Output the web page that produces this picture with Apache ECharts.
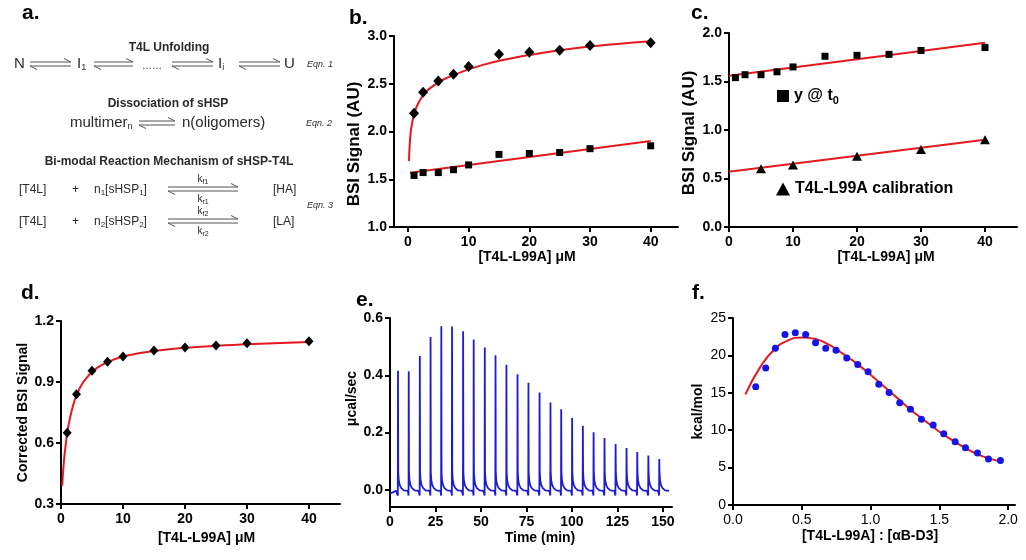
<!DOCTYPE html>
<html>
<head>
<meta charset="utf-8">
<script src="https://cdn.jsdelivr.net/npm/echarts@6/dist/echarts.min.js"></script>
<style>html,body{margin:0;padding:0;background:#fff;}#main{width:1026px;height:560px;}</style>
</head>
<body>
<div id="main"></div>
<script>
// ---------- data ----------
// panel b / c : BSI signal vs [T4L-L99A] (µM)
const concX = [1, 2.5, 5, 7.5, 10, 15, 20, 25, 30, 40];
const bDiamondY = [2.19, 2.41, 2.53, 2.60, 2.68, 2.81, 2.83, 2.85, 2.90, 2.93];
const squareY = [1.54, 1.57, 1.57, 1.60, 1.65, 1.76, 1.77, 1.78, 1.82, 1.85];
const bFitDiamondX = [0.17, 0.22, 0.3, 0.4, 0.5, 0.75, 1, 1.5, 2, 2.5, 3, 4, 5, 6, 7.5, 10, 12.5, 15, 17.5, 20, 25, 30, 35, 40];
const bFitDiamondY = [1.69, 1.78, 1.88, 1.96, 2.02, 2.11, 2.18, 2.27, 2.33, 2.38, 2.42, 2.47, 2.515, 2.55, 2.59, 2.65, 2.70, 2.74, 2.772, 2.80, 2.85, 2.89, 2.92, 2.945];
const bFitSquareX = [0.33, 40];
const bFitSquareY = [1.567, 1.90];
const calibX = [5, 10, 20, 30, 40];
const calibY = [0.60, 0.64, 0.73, 0.80, 0.90];
const cFitSquareX = [0, 40];
const cFitSquareY = [1.56, 1.90];
const cFitCalibX = [0, 40];
const cFitCalibY = [0.57, 0.90];
// panel d : corrected BSI signal
const dY = [0.65, 0.84, 0.955, 1.0, 1.025, 1.055, 1.07, 1.08, 1.09, 1.10];
const dFitX = [0.2, 0.3, 0.5, 0.75, 1, 1.5, 2, 2.5, 3, 3.5, 4, 5, 6, 7.5, 10, 12.5, 15, 20, 25, 30, 40];
const dFitY = [0.39, 0.44, 0.52, 0.59, 0.65, 0.73, 0.79, 0.835, 0.868, 0.895, 0.915, 0.95, 0.973, 0.998, 1.025, 1.041, 1.053, 1.068, 1.078, 1.086, 1.097];
// panel e : ITC thermogram (injection times in min, peak heights in µcal/sec)
const injTime = [4.4, 10.3, 16.4, 22.3, 28.2, 34.1, 40.2, 46.0, 52.1, 58.0, 64.0, 70.1, 76.1,
                 82.2, 88.2, 94.1, 100.1, 106.0, 111.9, 117.9, 124.0, 130.0, 135.9, 142.0, 148.0];
const injPeak = [0.416, 0.414, 0.467, 0.534, 0.571, 0.570, 0.554, 0.525, 0.497, 0.470, 0.437, 0.404, 0.374,
                 0.340, 0.305, 0.281, 0.251, 0.224, 0.201, 0.181, 0.160, 0.146, 0.132, 0.120, 0.108];
const preSpike = [[-0.3, -0.004], [-0.1, -0.02]];               // [min offset, µcal/sec]
const tailShape = [[0.12, 0.062], [0.4, 0.034], [0.9, 0.017], [1.8, 0.006], [3.2, -0.002], [5.4, -0.004]];
const traceStart = [[0, -0.013], [1.5, -0.009], [3.2, -0.003]];
const traceEnd = [[153.5, -0.002]];
// panel f : integrated heats
const fX = [0.165, 0.238, 0.308, 0.378, 0.453, 0.528, 0.60, 0.674, 0.749, 0.827, 0.907, 0.982,
            1.06, 1.135, 1.212, 1.29, 1.37, 1.455, 1.532, 1.615, 1.69, 1.777, 1.857, 1.944];
const fY = [15.8, 18.3, 20.95, 22.8, 23.04, 22.8, 21.7, 20.95, 20.7, 19.66, 18.77, 17.8,
            16.15, 15.04, 13.66, 12.81, 11.48, 10.68, 9.52, 8.45, 7.65, 6.94, 6.14, 5.96];
const fFitX = [0.09, 0.2, 0.3, 0.4, 0.5, 0.6, 0.7, 0.8, 0.9, 1.0, 1.1, 1.2, 1.3, 1.4, 1.5, 1.6, 1.7, 1.8, 1.95];
const fFitY = [14.8, 18.5, 20.8, 22.0, 22.4, 22.2, 21.4, 20.2, 18.9, 17.4, 15.8, 14.2, 12.6, 11.2, 9.8, 8.6, 7.5, 6.6, 5.8];
// tick labels
const concTicks = [0, 10, 20, 30, 40];
const timeTicks = [0, 25, 50, 75, 100, 125, 150];
const eYTicks = [0, 0.2, 0.4, 0.6];
const fXTicks = [0, 0.5, 1.0, 1.5, 2.0];

// ---------- helpers ----------
const FONT = "'Liberation Sans', Arial, Helvetica, sans-serif";
const RED = '#e3191f';
const zip = (xs, ys) => xs.map((x, i) => [x, ys[i]]);
const trace = [];
traceStart.forEach(p => trace.push(p));
injTime.forEach((t, i) => {
  preSpike.forEach(p => trace.push([t + p[0], p[1]]));
  trace.push([t, injPeak[i]]);
  tailShape.forEach(p => { if (t + p[0] < (injTime[i + 1] || 999) - 0.3) trace.push([t + p[0], p[1]]); });
});
traceEnd.forEach(p => trace.push(p));

function xAx(gi, min, max, name, ticks, opts) {
  opts = opts || {};
  return {
    type: 'value', gridIndex: gi, min: min, max: max,
    name: name, nameLocation: 'middle', nameGap: opts.gap || 24,
    nameTextStyle: { fontFamily: FONT, fontWeight: 'bold', fontSize: opts.nameSize || 14, color: '#000', padding: opts.pad || 0 },
    axisLine: { show: true, onZero: false, lineStyle: { color: '#000', width: 2 } },
    axisTick: { show: true, length: 5, customValues: ticks, lineStyle: { color: '#000', width: 2 } },
    axisLabel: { customValues: ticks, margin: 8, fontFamily: FONT, fontSize: 14, color: '#000',
      fontWeight: opts.labelBold === false ? 'normal' : 'bold', formatter: opts.fmt },
    splitLine: { show: false }
  };
}
function yAx(gi, min, max, interval, name, opts) {
  opts = opts || {};
  const o = {
    type: 'value', gridIndex: gi, min: min, max: max,
    name: name, nameLocation: 'middle', nameGap: opts.gap || 32, nameRotate: 90,
    nameTextStyle: { fontFamily: FONT, fontWeight: 'bold', fontSize: opts.nameSize || 14, color: '#000', padding: opts.pad || 0 },
    axisLine: { show: true, onZero: false, lineStyle: { color: '#000', width: 2 } },
    axisTick: { show: true, length: 5, lineStyle: { color: '#000', width: 2 } },
    axisLabel: { margin: 7, fontFamily: FONT, fontSize: 14, color: '#000',
      fontWeight: opts.labelBold === false ? 'normal' : 'bold', formatter: opts.fmt },
    splitLine: { show: false }
  };
  if (interval) o.interval = interval;
  if (opts.ticks) { o.axisTick.customValues = opts.ticks; o.axisLabel.customValues = opts.ticks; }
  return o;
}
const f1 = v => Number(v).toFixed(1);

// ---------- panel a (scheme) ----------
const G = [];
const TXT = '#2a2a2a';
function txt(x, y, text, st) {
  G.push({ type: 'text', x: x, y: y, silent: true,
    style: Object.assign({ text: text, fill: TXT, fontFamily: FONT, fontSize: 12, align: 'left', verticalAlign: 'middle' }, st || {}) });
}
function harpoon(x1, x2, y) {
  G.push({ type: 'polyline', silent: true, shape: { points: [[x1, y - 2], [x2, y - 2], [x2 - 7, y - 5.5]] }, style: { stroke: '#555', lineWidth: 1, fill: null } });
  G.push({ type: 'polyline', silent: true, shape: { points: [[x2, y + 2], [x1, y + 2], [x1 + 7, y + 5.5]] }, style: { stroke: '#555', lineWidth: 1, fill: null } });
}
const subRich = (big, small) => ({ m: { fontSize: big, fontFamily: FONT, fill: TXT }, s: { fontSize: small, fontFamily: FONT, fill: TXT, padding: [small * 0.8, 0, 0, 0] } });

txt(169, 48, 'T4L Unfolding', { align: 'center', fontWeight: 'bold', fontSize: 12 });
txt(14, 64, 'N', { fontSize: 15 });
harpoon(30, 71, 64);
txt(77, 64, '{m|I}{s|1}', { rich: subRich(15, 9) });
harpoon(94, 133, 64);
txt(142, 66, '……', { fontSize: 10 });
harpoon(172, 213, 64);
txt(218, 64, '{m|I}{s|i}', { rich: subRich(15, 9) });
harpoon(239, 280, 64);
txt(284, 64, 'U', { fontSize: 15 });
txt(307, 64, 'Eqn. 1', { fontSize: 9, fontStyle: 'italic' });

txt(168, 104, 'Dissociation of sHSP', { align: 'center', fontWeight: 'bold', fontSize: 12 });
txt(70, 123, '{m|multimer}{s|n}', { rich: subRich(15, 9) });
harpoon(139, 175, 123);
txt(182, 123, 'n(oligomers)', { fontSize: 15 });
txt(306, 123, 'Eqn. 2', { fontSize: 9, fontStyle: 'italic' });

txt(169, 162, 'Bi-modal Reaction Mechanism of sHSP-T4L', { align: 'center', fontWeight: 'bold', fontSize: 12 });
[[190, '1', 'HA'], [222, '2', 'LA']].forEach(r => {
  const y = r[0];
  txt(19, y, '[T4L]', { fontSize: 12 });
  txt(72, y, '+', { fontSize: 12 });
  txt(94, y, '{m|n}{s|' + r[1] + '}{m|[sHSP}{s|' + r[1] + '}{m|]}', { rich: subRich(12, 8) });
  harpoon(168, 238, y - 1);
  txt(203, y - 11, '{m|k}{s|f' + r[1] + '}', { align: 'center', rich: subRich(10, 7) });
  txt(203, y + 9, '{m|k}{s|r' + r[1] + '}', { align: 'center', rich: subRich(10, 7) });
  txt(273, y, '[' + r[2] + ']', { fontSize: 12 });
});
txt(307, 205, 'Eqn. 3', { fontSize: 9, fontStyle: 'italic' });

// panel letters
[['a.', 22, 13], ['b.', 349, 18], ['c.', 691, 13], ['d.', 21, 293], ['e.', 356, 300], ['f.', 692, 293]].forEach(p => {
  G.push({ type: 'text', x: p[1], y: p[2], silent: true,
    style: { text: p[0], fill: '#000', fontFamily: FONT, fontWeight: 'bold', fontSize: 21, align: 'left', verticalAlign: 'middle' } });
});

// ---------- chart ----------
const chart = echarts.init(document.getElementById('main'), null, { renderer: 'canvas' });
const BLK = { color: '#000', opacity: 1 };
const option = {
  animation: false,
  backgroundColor: '#fff',
  textStyle: { fontFamily: FONT },
  grid: [
    { left: 394, top: 36, width: 284, height: 191 },   // b
    { left: 729, top: 33, width: 288, height: 194 },   // c
    { left: 61, top: 321, width: 279, height: 183 },   // d
    { left: 390, top: 318, width: 282, height: 189 },  // e
    { left: 733, top: 318, width: 282, height: 187 }   // f
  ],
  xAxis: [
    xAx(0, -2.3, 44.5, '[T4L-L99A] μM', concTicks, { gap: 23, pad: [0, 18, 0, 0] }),
    xAx(1, 0, 45, '[T4L-L99A] μM', concTicks, { gap: 22, pad: [0, 0, 0, 26] }),
    xAx(2, 0, 45, '[T4L-L99A] μM', concTicks, { gap: 27, pad: [0, 0, 0, 12] }),
    xAx(3, 0, 155, 'Time (min)', timeTicks, { gap: 24, pad: [0, 0, 0, 18] }),
    xAx(4, 0, 2.05, '[T4L-L99A] : [αB-D3]', fXTicks, { gap: 24, pad: [0, 8, 0, 0], labelBold: false, fmt: f1 })
  ],
  yAxis: [
    yAx(0, 1, 3, 0.5, 'BSI Signal (AU)', { gap: 31, nameSize: 17, pad: [0, 25, 0, 0], fmt: f1 }),
    yAx(1, 0, 2, 0.5, 'BSI Signal (AU)', { gap: 31, nameSize: 17, pad: [0, 6, 0, 0], fmt: f1 }),
    yAx(2, 0.3, 1.2, 0.3, 'Corrected BSI Signal', { gap: 29, fmt: f1 }),
    yAx(3, -0.06, 0.6, null, 'μcal/sec', { gap: 31, pad: [0, 0, 0, 28], fmt: f1, ticks: eYTicks }),
    yAx(4, 0, 25, 5, 'kcal/mol', { gap: 28, labelBold: false })
  ],
  legend: [
    { data: [{ name: 'y @ t0', icon: 'rect' }], left: 772, top: 83, itemWidth: 12, itemHeight: 12, itemGap: 0, selectedMode: false,
      formatter: () => '{a|y @ t}{s|0}',
      textStyle: { color: '#000', fontFamily: FONT, fontWeight: 'bold', fontSize: 16,
        rich: { a: { fontSize: 16, fontWeight: 'bold', fontFamily: FONT, color: '#000' },
                s: { fontSize: 11, fontWeight: 'bold', fontFamily: FONT, color: '#000', padding: [9, 0, 0, 0] } } } },
    { data: [{ name: 'T4L-L99A calibration', icon: 'triangle' }], left: 771, top: 176, itemWidth: 14, itemHeight: 13, selectedMode: false,
      textStyle: { color: '#000', fontFamily: FONT, fontWeight: 'bold', fontSize: 16 } }
  ],
  graphic: G,
  series: [
    // b
    { type: 'line', name: 'b fit 1', xAxisIndex: 0, yAxisIndex: 0, data: zip(bFitDiamondX, bFitDiamondY), smooth: 0.3,
      showSymbol: false, lineStyle: { color: RED, width: 2 }, z: 2 },
    { type: 'line', name: 'b fit 2', xAxisIndex: 0, yAxisIndex: 0, data: zip(bFitSquareX, bFitSquareY),
      showSymbol: false, lineStyle: { color: RED, width: 2 }, z: 2 },
    { type: 'scatter', name: 'b diamonds', xAxisIndex: 0, yAxisIndex: 0, data: zip(concX, bDiamondY), symbol: 'diamond', symbolSize: [10, 11],
      itemStyle: BLK, z: 3 },
    { type: 'scatter', name: 'b squares', xAxisIndex: 0, yAxisIndex: 0, data: zip(concX, squareY), symbol: 'rect', symbolSize: 7,
      itemStyle: BLK, z: 3 },
    // c
    { type: 'line', name: 'c fit 1', xAxisIndex: 1, yAxisIndex: 1, data: zip(cFitSquareX, cFitSquareY),
      showSymbol: false, lineStyle: { color: RED, width: 2 }, z: 2 },
    { type: 'line', name: 'c fit 2', xAxisIndex: 1, yAxisIndex: 1, data: zip(cFitCalibX, cFitCalibY),
      showSymbol: false, lineStyle: { color: RED, width: 2 }, z: 2 },
    { type: 'scatter', name: 'y @ t0', xAxisIndex: 1, yAxisIndex: 1, data: zip(concX, squareY), symbol: 'rect', symbolSize: 7,
      itemStyle: BLK, z: 3 },
    { type: 'scatter', name: 'T4L-L99A calibration', xAxisIndex: 1, yAxisIndex: 1, data: zip(calibX, calibY), symbol: 'triangle', symbolSize: [10, 9],
      itemStyle: BLK, z: 3 },
    // d
    { type: 'line', name: 'd fit', xAxisIndex: 2, yAxisIndex: 2, data: zip(dFitX, dFitY), smooth: 0.3,
      showSymbol: false, lineStyle: { color: RED, width: 2 }, z: 2 },
    { type: 'scatter', name: 'd diamonds', xAxisIndex: 2, yAxisIndex: 2, data: zip(concX, dY), symbol: 'diamond', symbolSize: [9, 10],
      itemStyle: BLK, z: 3 },
    // e
    { type: 'line', name: 'ITC', xAxisIndex: 3, yAxisIndex: 3, data: trace, showSymbol: false,
      lineStyle: { color: '#1c1cd2', width: 1.8 }, z: 2 },
    // f
    { type: 'line', name: 'f fit', xAxisIndex: 4, yAxisIndex: 4, data: zip(fFitX, fFitY), smooth: true,
      showSymbol: false, lineStyle: { color: RED, width: 2 }, z: 2 },
    { type: 'scatter', name: 'f points', xAxisIndex: 4, yAxisIndex: 4, data: zip(fX, fY), symbol: 'circle', symbolSize: 7,
      itemStyle: { color: '#1414e6', opacity: 1 }, z: 3 }
  ]
};
chart.setOption(option);
</script>
</body>
</html>
